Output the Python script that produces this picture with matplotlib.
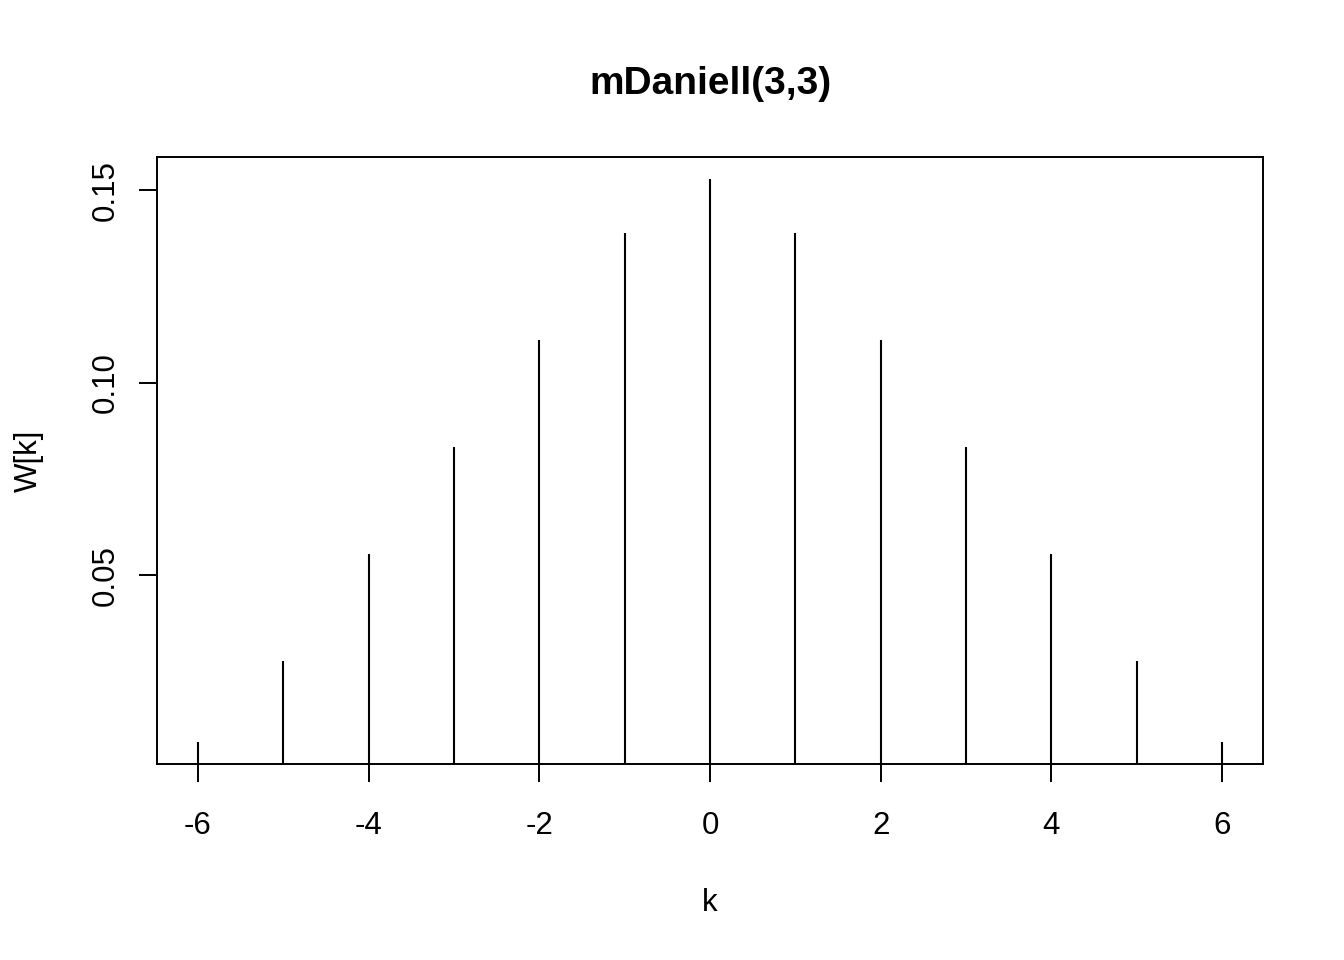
import numpy as np
import matplotlib
matplotlib.use("Agg")
import matplotlib.pyplot as plt

plt.rcParams["font.family"] = ["Liberation Sans", "DejaVu Sans"]

# modified Daniell(3,3) kernel weights
k = [-6, -5, -4, -3, -2, -1, 0, 1, 2, 3, 4, 5, 6]
w = [0.0069, 0.0278, 0.0556, 0.0833, 0.1111, 0.1389, 0.1528,
     0.1389, 0.1111, 0.0833, 0.0556, 0.0278, 0.0069]
xticks = [-6, -4, -2, 0, 2, 4, 6]
yticks = [0.05, 0.10, 0.15]
ytick_labels = ["0.05", "0.10", "0.15"]

fig = plt.figure(figsize=(13.44, 9.6), dpi=100)
ax = fig.add_axes([157 / 1344, 1 - 764 / 960, (1263 - 157) / 1344, (764 - 157) / 960])

ax.vlines(k, 0, w, color="black", linewidth=1.5)

# R-style 4% range extension
xr = max(k) - min(k)
ax.set_xlim(min(k) - 0.04 * xr, max(k) + 0.04 * xr)
yr = max(w) - min(w)
ax.set_ylim(min(w) - 0.04 * yr, max(w) + 0.04 * yr)

ax.set_xticks(xticks)
ax.set_xticklabels([str(x) for x in xticks])
ax.set_yticks(yticks)
ax.set_yticklabels(ytick_labels, rotation=90, va="center")

for s in ax.spines.values():
    s.set_linewidth(1.4)
ax.tick_params(axis="both", length=13, width=1.4, labelsize=22.5, direction="out")
ax.tick_params(axis="x", pad=20.5)
ax.tick_params(axis="y", pad=13)

ax.set_xlabel("k", fontsize=22.5, labelpad=34)
ax.set_ylabel("W[k]", fontsize=22.5, labelpad=34)
ax.set_title("mDaniell(3,3)", fontsize=28, fontweight="bold", pad=45)

fig.savefig("out.png", dpi=100)
